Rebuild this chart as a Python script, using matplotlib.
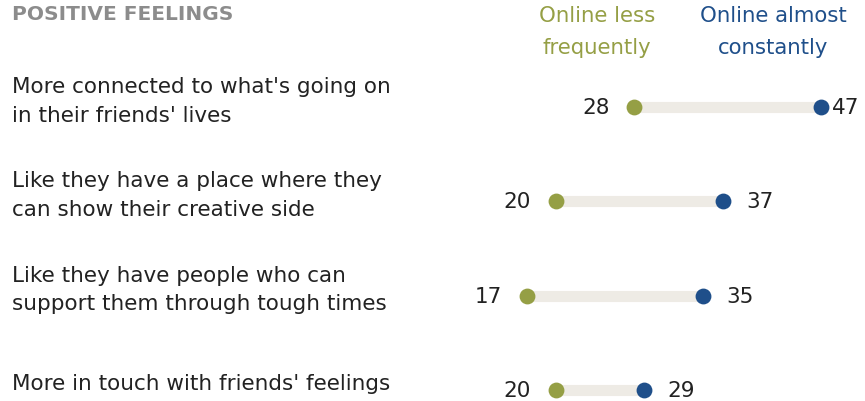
import numpy as np
import matplotlib.pyplot as plt

labels = [
    "More connected to what's going on\nin their friends' lives",
    "Like they have a place where they\ncan show their creative side",
    "Like they have people who can\nsupport them through tough times",
    "More in touch with friends' feelings",
]
less_freq = [28, 20, 17, 20]
almost_const = [47, 37, 35, 29]

GREEN = "#959f45"
BLUE = "#1f4f8a"
BAR = "#eeebe5"
TEXT = "#222222"
FONT = "DejaVu Sans"

W, H = 865, 402
fig = plt.figure(figsize=(W / 100, H / 100), dpi=100)
ax = fig.add_axes([0, 0, 1, 1])

# value 0 sits at x=360px, 9.8px per point; rows 94.3px apart starting at y=108px
px_per_val = 9.8
x0 = 360
ax.set_xlim(-x0 / px_per_val, (W - x0) / px_per_val)
row_h = 94.3
ax.set_ylim(3 + (H - 391) / row_h, -108 / row_h)
ax.axis("off")

rows = np.arange(len(labels))
for i in rows:
    ax.plot([less_freq[i], almost_const[i]], [i, i], color=BAR, lw=8,
            solid_capstyle="butt", zorder=1)
ax.scatter(less_freq, rows, s=130, color=GREEN, zorder=3, linewidths=0)
ax.scatter(almost_const, rows, s=130, color=BLUE, zorder=3, linewidths=0)

top = max(almost_const)
for i in rows:
    ax.annotate(str(less_freq[i]), (less_freq[i], i), xytext=(-18, 0),
                textcoords="offset points", ha="right", va="center",
                fontsize=15.5, color=TEXT, family=FONT)
    # the largest value runs into the right edge, so keep it tight to its dot
    off = 8 if almost_const[i] == top else 17
    ax.annotate(str(almost_const[i]), (almost_const[i], i), xytext=(off, 0),
                textcoords="offset points", ha="left", va="center",
                fontsize=15.5, color=TEXT, family=FONT)
    ax.annotate(labels[i], xy=(0, i - 0.07), xycoords=("figure fraction", "data"),
                xytext=(12 * 0.72, 0), textcoords="offset points",
                fontsize=15.5, color=TEXT, family=FONT,
                va="center", ha="left", linespacing=1.55)

fig.text(12 / W, 1 - 15 / H, "POSITIVE FEELINGS", fontsize=14.5, fontweight="bold",
         color="#8c8c8c", family=FONT, va="center", ha="left")
fig.text(597 / W, 1 - 32 / H, "Online less\nfrequently", fontsize=15.3, color=GREEN,
         family=FONT, va="center", ha="center", linespacing=1.7)
fig.text(773 / W, 1 - 32 / H, "Online almost\nconstantly", fontsize=15.3, color=BLUE,
         family=FONT, va="center", ha="center", linespacing=1.7)

fig.savefig("out.png", dpi=100)
